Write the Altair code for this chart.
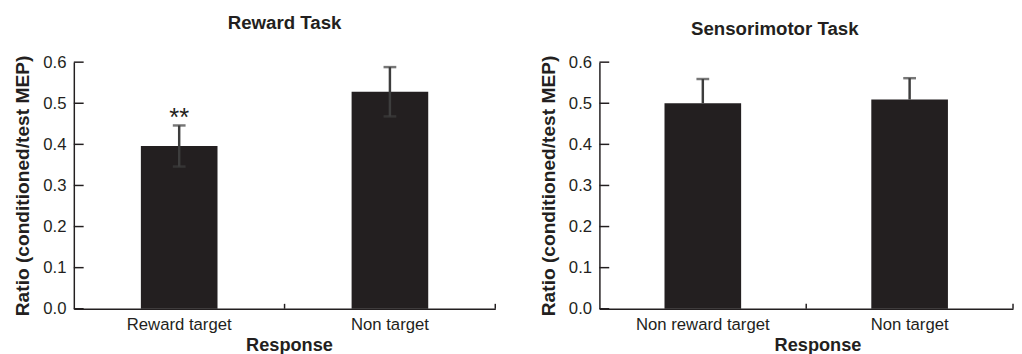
import altair as alt
import pandas as pd

# ---- data ----
reward_cats = ["Reward target", "Non target"]
reward_means = [0.396, 0.528]
reward_se = [0.050, 0.060]
reward_marks = ["**", ""]

sensori_cats = ["Non reward target", "Non target"]
sensori_means = [0.500, 0.509]
sensori_se = [0.059, 0.052]
sensori_marks = ["", ""]

y_ticks = [0.0, 0.1, 0.2, 0.3, 0.4, 0.5, 0.6]

FONT = "Liberation Sans"
INK = "#231f20"
ERR = "#3d3d3d"
H = 251


def panel(title, cats, means, ses, marks, lower, width, title_dx, xtitle_x):
    df = pd.DataFrame({
        "cat": cats,
        "mean": means,
        "hi": [m + s for m, s in zip(means, ses)],
        "lo": [m - s for m, s in zip(means, ses)] if lower else means,
        "mark": marks,
    })
    ticks_df = pd.DataFrame({"v": y_ticks})
    xscale = alt.Scale(paddingInner=0, paddingOuter=0, domain=cats)
    yscale = alt.Scale(domain=[0, 0.6], nice=False)

    base = alt.Chart(df)
    bars = base.mark_bar(size=78, color=INK).encode(
        x=alt.X("cat:N", sort=cats, scale=xscale, title="Response",
                axis=alt.Axis(labelAngle=0, ticks=False, labelFontSize=17,
                              labelPadding=8, titleFontSize=18.5, titleFontWeight="bold",
                              titlePadding=4, domainColor=INK, domainWidth=1.5,
                              labelColor=INK, titleColor=INK, titleX=xtitle_x,
                              labelFont=FONT, titleFont=FONT)),
        y=alt.Y("mean:Q", scale=yscale, title="Ratio (conditioned/test MEP)",
                axis=alt.Axis(values=y_ticks, format=".1f", ticks=False, grid=False,
                              labelFontSize=17, labelPadding=8, titleFontSize=19.5,
                              titleFontWeight="bold", titlePadding=10, domainColor=INK,
                              domainWidth=1.5, labelColor=INK, titleColor=INK,
                              labelFont=FONT, titleFont=FONT)),
    )
    err = base.mark_rule(color=ERR, strokeWidth=2.5).encode(
        x=alt.X("cat:N", sort=cats, scale=xscale),
        y=alt.Y("lo:Q", scale=yscale),
        y2="hi:Q",
    )
    cap_hi = base.mark_tick(color=ERR, size=13, thickness=2.5).encode(
        x=alt.X("cat:N", sort=cats, scale=xscale),
        y=alt.Y("hi:Q", scale=yscale),
    )
    layers = [bars, err, cap_hi]
    if lower:
        cap_lo = base.mark_tick(color=ERR, size=13, thickness=2.5).encode(
            x=alt.X("cat:N", sort=cats, scale=xscale),
            y=alt.Y("lo:Q", scale=yscale),
        )
        layers.append(cap_lo)
    txt = base.mark_text(font=FONT, fontSize=26, color=INK, baseline="alphabetic", dy=1).encode(
        x=alt.X("cat:N", sort=cats, scale=xscale),
        y=alt.Y("hi:Q", scale=yscale),
        text="mark:N",
    )
    layers.append(txt)
    ytick = alt.Chart(ticks_df).mark_rule(color=INK, strokeWidth=1.5).encode(
        y=alt.Y("v:Q", scale=yscale),
        x=alt.value(0),
        x2=alt.value(10),
    )
    xtick = base.mark_rule(color=INK, strokeWidth=1.5).encode(
        x=alt.X("cat:N", sort=cats, scale=xscale, bandPosition=1),
        y=alt.value(H),
        y2=alt.value(H - 5),
    )
    layers += [ytick, xtick]
    return alt.layer(*layers).properties(
        width=width, height=H,
        title=alt.TitleParams(title, fontSize=19, fontWeight="bold", font=FONT,
                              color=INK, offset=15, dx=title_dx),
    )


left = panel("Reward Task", reward_cats, reward_means, reward_se, reward_marks,
             True, 429, 0, 219)
right = panel("Sensorimotor Task", sensori_cats, sensori_means, sensori_se, sensori_marks,
              False, 421, -32, 222)

chart = alt.hconcat(left, right, spacing=43).properties(
    padding={"left": 5, "top": 3, "right": 0, "bottom": 0}
).configure_view(stroke=None)

chart.save("out.html", embed_options={"renderer": "svg", "actions": False})
